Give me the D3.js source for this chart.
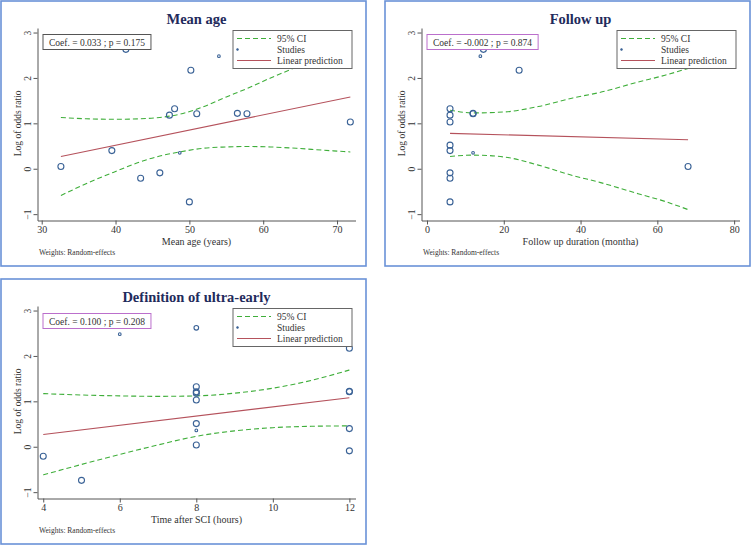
<!DOCTYPE html>
<html>
<head>
<meta charset="utf-8">
<script src="https://cdn.jsdelivr.net/npm/d3@7"></script>
<style>
  html, body { margin: 0; padding: 0; background: #fff; }
  svg { display: block; font-family: "Liberation Serif", "Times New Roman", serif; }
</style>
</head>
<body>
<svg id="chart" width="751" height="546"></svg>
<script>
// ---------- DATA ----------
const yTicks = [-1, 0, 1, 2, 3];

// Panel 1: Mean age
const ageTicks = [30, 40, 50, 60, 70];
const ageX = [32.6, 39.5, 41.4, 43.4, 46.0, 47.3, 48.0, 48.7, 50.0, 50.2, 51.0, 54.0, 56.5, 57.8, 71.8];
const ageY = [0.05, 0.40, 2.63, -0.21, -0.09, 1.18, 1.32, 0.35, -0.73, 2.17, 1.21, 2.48, 1.22, 1.21, 1.03];
const ageW = [1, 1, 1, 1, 1, 1, 1, 0.2, 1, 1, 1, 0.2, 1, 1, 1];
const ageCiX = [32.6, 36, 40, 43.3, 46, 48.7, 51.8, 55, 57.7, 61, 64.5, 68, 71.8];
const ageCiUpper = [1.13, 1.10, 1.09, 1.10, 1.13, 1.20, 1.36, 1.58, 1.76, 2.00, 2.24, 2.50, 2.79];
const ageCiLower = [-0.59, -0.33, -0.06, 0.15, 0.28, 0.37, 0.45, 0.48, 0.49, 0.48, 0.45, 0.41, 0.37];
const agePredX = [32.6, 71.8];
const agePredY = [0.27, 1.58];

// Panel 2: Follow up
const fuTicks = [0, 20, 40, 60, 80];
const fuX = [6, 6, 6, 6, 6, 6, 6, 6, 12, 12, 12, 13.9, 14.7, 24, 68];
const fuY = [1.32, 1.18, 1.03, 0.52, 0.40, -0.09, -0.21, -0.73, 1.21, 1.22, 0.35, 2.48, 2.63, 2.17, 0.05];
const fuW = [1, 1, 1, 1, 1, 1, 1, 1, 1, 1, 0.2, 0.2, 1, 1, 1];
const fuCiX = [6, 12, 20, 29, 38, 45, 55, 62, 68];
const fuCiUpper = [1.29, 1.23, 1.25, 1.37, 1.56, 1.68, 1.91, 2.06, 2.21];
const fuCiLower = [0.27, 0.30, 0.26, 0.08, -0.15, -0.30, -0.55, -0.72, -0.90];
const fuPredX = [6, 68];
const fuPredY = [0.78, 0.64];

// Panel 3: Definition of ultra-early
const tTicks = [4, 6, 8, 10, 12];
const tX = [4, 5, 6, 8, 8, 8, 8, 8, 8, 8, 8, 12, 12, 12, 12, 12];
const tY = [-0.21, -0.74, 2.48, 2.62, 1.32, 1.21, 1.18, 1.03, 0.51, 0.36, 0.04, 2.17, 1.22, 1.21, 0.40, -0.09];
const tW = [1, 1, 0.2, 0.6, 1, 1, 1, 1, 1, 0.2, 1, 1, 1, 1, 1, 1];
const tCiX = [4, 5, 6, 7, 8, 9, 10, 11, 12];
const tCiUpper = [1.17, 1.14, 1.12, 1.11, 1.12, 1.18, 1.29, 1.46, 1.69];
const tCiLower = [-0.62, -0.39, -0.17, 0.04, 0.23, 0.35, 0.42, 0.45, 0.46];
const tPredX = [4, 12];
const tPredY = [0.27, 1.08];

const titles = ["Mean age", "Follow up", "Definition of ultra-early"];
const xTitles = ["Mean age (years)", "Follow up duration (montha)", "Time after SCI (hours)"];
const coefTexts = ["Coef. = 0.033 ; p = 0.175", "Coef. = -0.002 ; p = 0.874", "Coef. = 0.100 ; p = 0.208"];
const legendLabels = ["95% CI", "Studies", "Linear prediction"];
const weightsNote = "Weights: Random-effects";

// ---------- STYLE / LAYOUT ----------
const C = {
  border: "#6a92d8", title: "#1f2b5c", text: "#333", axis: "#555",
  ci: "#3fae3a", pred: "#b5525c", point: "#3a6296",
  coefBorder: ["#555555", "#bb6fcc", "#bb6fcc"], legendBorder: "#666"
};

const panelDefs = [
  { ox: 1, oy: 1, xDomain: [29.43, 72.5], ticks: ageTicks, px: ageX, py: ageY, pw: ageW,
    ciX: ageCiX, ciU: ageCiUpper, ciL: ageCiLower, prX: agePredX, prY: agePredY },
  { ox: 385, oy: 1, xDomain: [-1.43, 81.4], ticks: fuTicks, px: fuX, py: fuY, pw: fuW,
    ciX: fuCiX, ciU: fuCiUpper, ciL: fuCiLower, prX: fuPredX, prY: fuPredY },
  { ox: 1, oy: 279, xDomain: [3.85, 12.16], ticks: tTicks, px: tX, py: tY, pw: tW,
    ciX: tCiX, ciU: tCiUpper, ciL: tCiLower, prX: tPredX, prY: tPredY }
];

const PW = 365, PH = 265;
const pLeft = 36.5, pRight = 354.5, pTop = 27, pBottom = 219.5;

const svg = d3.select("#chart");

panelDefs.forEach((p, i) => {
  const g = svg.append("g").attr("transform", `translate(${p.ox},${p.oy})`);

  // border
  g.append("rect").attr("x", 0).attr("y", 0).attr("width", PW).attr("height", PH)
    .attr("fill", "#fff").attr("stroke", C.border).attr("stroke-width", 1.6);

  const x = d3.scaleLinear().domain(p.xDomain).range([pLeft, pRight]);
  const y = d3.scaleLinear().domain([-1.14, 3.1]).range([pBottom, pTop]);

  // title
  g.append("text").attr("x", (pLeft + pRight) / 2).attr("y", 23)
    .attr("text-anchor", "middle").attr("font-weight", "bold").attr("font-size", 14.5)
    .attr("fill", C.title).text(titles[i]);

  // y axis
  const ya = g.append("g").attr("transform", `translate(${pLeft},0)`)
    .call(d3.axisLeft(y).tickValues(yTicks).tickSize(4).tickSizeOuter(0).tickFormat(d3.format("d")));
  ya.select(".domain").attr("stroke", C.axis);
  ya.selectAll(".tick line").attr("stroke", C.axis);
  ya.selectAll(".tick text").attr("font-family", "Liberation Serif").attr("font-size", 9.5).attr("fill", C.text)
    .attr("x", 0).attr("y", 0).attr("dy", null)
    .attr("text-anchor", "middle")
    .attr("transform", "translate(-7,0) rotate(-90)");

  // x axis
  const xa = g.append("g").attr("transform", `translate(0,${pBottom})`)
    .call(d3.axisBottom(x).tickValues(p.ticks).tickSize(4).tickSizeOuter(0).tickFormat(d3.format("d")));
  xa.select(".domain").attr("stroke", C.axis);
  xa.selectAll(".tick line").attr("stroke", C.axis);
  xa.selectAll(".tick text").attr("font-family", "Liberation Serif").attr("font-size", 10)
    .attr("fill", C.text).attr("y", 5).attr("dy", "0.71em");

  // axis titles
  g.append("text").attr("transform", `translate(16.5,${(y(3) + y(-1)) / 2}) rotate(-90)`)
    .attr("text-anchor", "middle").attr("dominant-baseline", "central")
    .attr("font-size", 9.5).attr("fill", C.text).text("Log of odds ratio");
  g.append("text").attr("x", (pLeft + pRight) / 2).attr("y", 244)
    .attr("text-anchor", "middle").attr("font-size", 10).attr("fill", C.text).text(xTitles[i]);
  g.append("text").attr("x", 38).attr("y", 254)
    .attr("font-size", 7.5).attr("fill", C.text).text(weightsNote);

  const plot = g.append("g");

  // CI lines
  const ciLine = d3.line().x(d => x(d[0])).y(d => y(d[1])).curve(d3.curveMonotoneX);
  [p.ciU, p.ciL].forEach(arr => {
    plot.append("path").datum(p.ciX.map((v, k) => [v, arr[k]]))
      .attr("d", ciLine).attr("fill", "none").attr("stroke", C.ci)
      .attr("stroke-width", 1.1).attr("stroke-dasharray", "5,3");
  });
  // prediction
  plot.append("path").datum(p.prX.map((v, k) => [v, p.prY[k]]))
    .attr("d", d3.line().x(d => x(d[0])).y(d => y(d[1])))
    .attr("fill", "none").attr("stroke", C.pred).attr("stroke-width", 1.1);

  // points
  const r = d3.scaleSqrt().domain([0, 1]).range([0, 3]);
  plot.selectAll("circle.pt").data(p.px.map((v, k) => ({ x: v, y: p.py[k], w: p.pw[k] })))
    .enter().append("circle").attr("class", "pt")
    .attr("cx", d => x(d.x)).attr("cy", d => y(d.y)).attr("r", d => r(d.w))
    .attr("fill", "none").attr("stroke", C.point).attr("stroke-width", 1.1);

  // coef box
  const coefG = g.append("g");
  const ct = coefG.append("text").attr("x", 48).attr("y", i === 2 ? 45.5 : 44.5)
    .attr("font-size", 9.5).attr("fill", C.text).text(coefTexts[i]);
  const cw = ct.node().getComputedTextLength();
  coefG.insert("rect", "text").attr("x", 42).attr("y", i === 2 ? 34.5 : 33.5)
    .attr("width", cw + 12).attr("height", 15)
    .attr("fill", "#fff").attr("stroke", C.coefBorder[i]).attr("stroke-width", 1);

  // legend
  const lg = g.append("g").attr("transform", "translate(232,29.5)");
  lg.append("rect").attr("width", 119).attr("height", 38)
    .attr("fill", "#fff").attr("stroke", C.legendBorder).attr("stroke-width", 1);
  const rows = [8, 19, 30];
  lg.append("line").attr("x1", 4).attr("x2", 38).attr("y1", rows[0]).attr("y2", rows[0])
    .attr("stroke", C.ci).attr("stroke-width", 1.1).attr("stroke-dasharray", "5,3");
  lg.append("circle").attr("cx", 4.5).attr("cy", rows[1]).attr("r", 1)
    .attr("fill", C.point).attr("stroke", C.point).attr("stroke-width", 0.6);
  lg.append("line").attr("x1", 4).attr("x2", 38).attr("y1", rows[2]).attr("y2", rows[2])
    .attr("stroke", C.pred).attr("stroke-width", 1.1);
  legendLabels.forEach((t, k) => {
    lg.append("text").attr("x", 44).attr("y", rows[k]).attr("dy", "0.35em")
      .attr("font-size", 9.5).attr("fill", C.text).text(t);
  });
});
</script>
</body>
</html>
